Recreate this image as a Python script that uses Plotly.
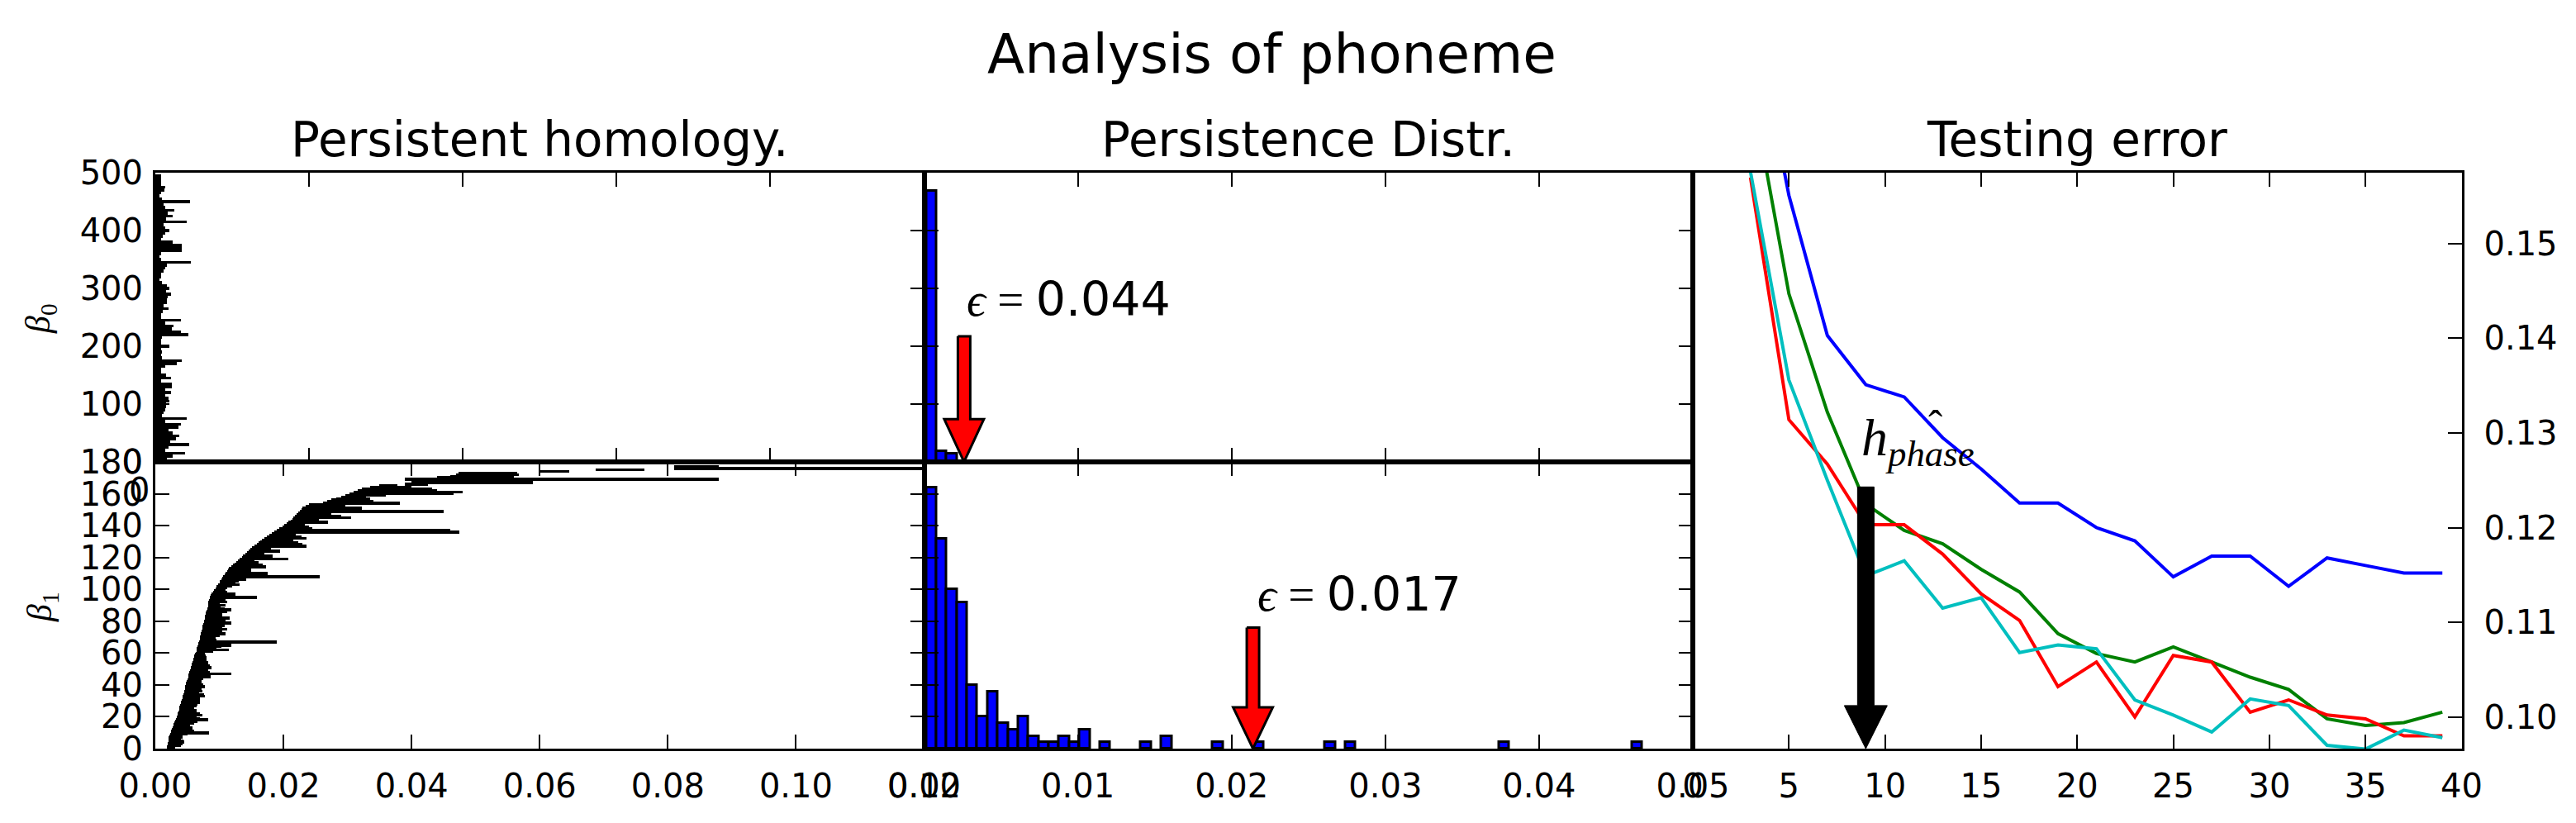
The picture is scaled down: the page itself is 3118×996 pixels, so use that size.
import plotly.graph_objects as go

W, H = 3118, 996

# ---------------- data ----------------
# beta0 barcode (top-left): bar index and death value (birth = 0)
beta0_index = list(range(0, 500, 5))
beta0_death = [
    0.00052, 0.00150, 0.00224, 0.00392, 0.00124, 0.00177, 0.00439, 0.00195, 0.00267, 0.00310,
    0.00231, 0.00177, 0.00303, 0.00331, 0.00131, 0.00403, 0.00088, 0.00105, 0.00124, 0.00142,
    0.00142, 0.00188, 0.00167, 0.00124, 0.00202, 0.00124, 0.00213, 0.00213, 0.00080, 0.00202,
    0.00142, 0.00070, 0.00070, 0.00131, 0.00274, 0.00339, 0.00088, 0.00080, 0.00088, 0.00070,
    0.00188, 0.00070, 0.00080, 0.00088, 0.00428, 0.00331, 0.00213, 0.00238, 0.00131, 0.00328,
    0.00080, 0.00080, 0.00095, 0.00167, 0.00105, 0.00152, 0.00152, 0.00159, 0.00202, 0.00142,
    0.00188, 0.00152, 0.00088, 0.00059, 0.00070, 0.00080, 0.00105, 0.00124, 0.00152, 0.00457,
    0.00070, 0.00059, 0.00070, 0.00346, 0.00346, 0.00346, 0.00224, 0.00070, 0.00095, 0.00131,
    0.00188, 0.00124, 0.00105, 0.00403, 0.00142, 0.00224, 0.00159, 0.00249, 0.00124, 0.00105,
    0.00446, 0.00088, 0.00052, 0.00080, 0.00120, 0.00124, 0.00080, 0.00080, 0.00070, 0.00070,
]

# beta1 barcode (bottom-left): birth / death per bar index 0..177
beta1_birth = [
    0.0018, 0.0018, 0.0019, 0.0019, 0.0020, 0.0020, 0.0021, 0.0021, 0.0022, 0.0023,
    0.0024, 0.0025, 0.0026, 0.0027, 0.0028, 0.0029, 0.0030, 0.0031, 0.0032, 0.0033,
    0.0034, 0.0035, 0.0035, 0.0036, 0.0037, 0.0038, 0.0038, 0.0039, 0.0040, 0.0040,
    0.0041, 0.0042, 0.0042, 0.0043, 0.0044, 0.0045, 0.0045, 0.0046, 0.0047, 0.0047,
    0.0048, 0.0048, 0.0049, 0.0050, 0.0051, 0.0051, 0.0052, 0.0053, 0.0053, 0.0054,
    0.0055, 0.0056, 0.0057, 0.0057, 0.0058, 0.0059, 0.0059, 0.0060, 0.0061, 0.0062,
    0.0063, 0.0064, 0.0065, 0.0065, 0.0066, 0.0067, 0.0067, 0.0068, 0.0069, 0.0069,
    0.0070, 0.0071, 0.0071, 0.0072, 0.0072, 0.0073, 0.0074, 0.0074, 0.0075, 0.0076,
    0.0076, 0.0077, 0.0077, 0.0078, 0.0079, 0.0079, 0.0080, 0.0081, 0.0081, 0.0082,
    0.0082, 0.0083, 0.0083, 0.0084, 0.0085, 0.0085, 0.0086, 0.0088, 0.0090, 0.0092,
    0.0094, 0.0095, 0.0096, 0.0098, 0.0100, 0.0101, 0.0103, 0.0105, 0.0106, 0.0108,
    0.0110, 0.0112, 0.0113, 0.0115, 0.0118, 0.0121, 0.0124, 0.0127, 0.0129, 0.0132,
    0.0135, 0.0137, 0.0140, 0.0143, 0.0146, 0.0148, 0.0151, 0.0155, 0.0158, 0.0161,
    0.0164, 0.0167, 0.0170, 0.0174, 0.0178, 0.0182, 0.0186, 0.0190, 0.0194, 0.0198,
    0.0201, 0.0205, 0.0208, 0.0211, 0.0214, 0.0216, 0.0218, 0.0220, 0.0223, 0.0226,
    0.0228, 0.0230, 0.0235, 0.0240, 0.0262, 0.0268, 0.0275, 0.0283, 0.0290, 0.0297,
    0.0303, 0.0310, 0.0316, 0.0322, 0.0335, 0.0350, 0.0390, 0.0400, 0.0410, 0.0390,
    0.0440, 0.0460, 0.0470, 0.0473, 0.0600, 0.0687, 0.0810, 0.0810,
]
beta1_death = [
    0.0030, 0.0031, 0.0040, 0.0042, 0.0045, 0.0044, 0.0040, 0.0043, 0.0042, 0.0050,
    0.0084, 0.0060, 0.0055, 0.0058, 0.0050, 0.0054, 0.0060, 0.0066, 0.0082, 0.0070,
    0.0065, 0.0073, 0.0070, 0.0062, 0.0064, 0.0060, 0.0058, 0.0065, 0.0066, 0.0069,
    0.0069, 0.0066, 0.0070, 0.0077, 0.0076, 0.0068, 0.0074, 0.0072, 0.0066, 0.0077,
    0.0075, 0.0070, 0.0072, 0.0068, 0.0075, 0.0086, 0.0086, 0.0118, 0.0085, 0.0082,
    0.0076, 0.0088, 0.0085, 0.0078, 0.0082, 0.0080, 0.0075, 0.0080, 0.0079, 0.0074,
    0.0077, 0.0090, 0.0115, 0.0095, 0.0103, 0.0119, 0.0105, 0.0190, 0.0095, 0.0092,
    0.0094, 0.0100, 0.0109, 0.0095, 0.0104, 0.0112, 0.0105, 0.0108, 0.0100, 0.0119,
    0.0105, 0.0110, 0.0116, 0.0104, 0.0099, 0.0105, 0.0112, 0.0118, 0.0108, 0.0102,
    0.0109, 0.0100, 0.0112, 0.0108, 0.0110, 0.0159, 0.0110, 0.0125, 0.0112, 0.0110,
    0.0108, 0.0112, 0.0120, 0.0131, 0.0125, 0.0130, 0.0142, 0.0135, 0.0256, 0.0150,
    0.0176, 0.0140, 0.0150, 0.0140, 0.0173, 0.0168, 0.0150, 0.0161, 0.0155, 0.0208,
    0.0175, 0.0183, 0.0170, 0.0165, 0.0195, 0.0180, 0.0170, 0.0236, 0.0230, 0.0223,
    0.0200, 0.0215, 0.0236, 0.0228, 0.0219, 0.0210, 0.0475, 0.0460, 0.0245, 0.0240,
    0.0234, 0.0232, 0.0269, 0.0250, 0.0255, 0.0306, 0.0290, 0.0275, 0.0268, 0.0450,
    0.0290, 0.0322, 0.0296, 0.0290, 0.0382, 0.0340, 0.0331, 0.0335, 0.0329, 0.0360,
    0.0466, 0.0480, 0.0440, 0.0432, 0.0400, 0.0378, 0.0425, 0.0589, 0.0560, 0.0879,
    0.0530, 0.0560, 0.0567, 0.0565, 0.0646, 0.0763, 0.1250, 0.0879,
]

# persistence histograms (middle column)
hist_bin_width = 0.000665
hist_bin_offset = 0.00014
hist0_bins = [0, 1, 2]
hist0_counts = [469, 19, 14]
hist1_bins = [0, 1, 2, 3, 4, 5, 6, 7, 8, 9, 10, 11, 12, 13, 14, 15,
              17, 21, 23, 28, 32, 39, 41, 56, 69]
hist1_counts = [164, 132, 100, 92, 40, 20, 36, 16, 12, 20, 8, 4, 4, 8, 4, 12,
                4, 4, 8, 4, 4, 4, 4, 4, 4]

# epsilon markers
eps0 = dict(x=0.0026, top=217, base=74, label="0.044", text_x=0.00265, text_y=281)
eps1 = dict(x=0.02139, top=76, base=26, label="0.017", text_x=0.0216, text_y=97)

# testing error (right panel)
err_x = [3, 5, 7, 9, 11, 13, 15, 17, 19, 21, 23, 25, 27, 29, 31, 33, 35, 37, 39]
err_blue = [0.1760, 0.1551, 0.1403, 0.1351, 0.1338, 0.1295, 0.1262, 0.1226, 0.1226, 0.1200,
            0.1186, 0.1148, 0.1170, 0.1170, 0.1138, 0.1168, 0.1160, 0.1152, 0.1152]
err_green = [0.1670, 0.1447, 0.1322, 0.1225, 0.1197, 0.1183, 0.1156, 0.1132, 0.1088, 0.1067,
             0.1058, 0.1074, 0.1058, 0.1042, 0.1029, 0.0998, 0.0991, 0.0994, 0.1005]
err_red = [0.1570, 0.1314, 0.1267, 0.1203, 0.1203, 0.1172, 0.1130, 0.1102, 0.1032, 0.1058,
           0.1000, 0.1065, 0.1058, 0.1005, 0.1018, 0.1002, 0.0998, 0.0980, 0.0980]
err_cyan = [0.1576, 0.1356, 0.1250, 0.1149, 0.1165, 0.1115, 0.1126, 0.1068, 0.1076, 0.1072,
            0.1018, 0.1002, 0.0984, 0.1019, 0.1012, 0.0970, 0.0966, 0.0986, 0.0978]
h_phase = dict(x=9, top=0.1243, base=0.1012)

# axis ranges
XL_TOP_RANGE = [0, 0.1]
XL_BOT_RANGE = [0, 0.12]
XM_RANGE = [0, 0.05]
XR_RANGE = [0, 40]
Y0_RANGE = [0, 500]
Y1_RANGE = [0, 180]
YR_RANGE = [0.09665, 0.1575]

# ---------------- layout geometry (pixels of the target picture) ----------------
PX_L, PX_M, PX_R, PX_E = 188, 1118.5, 2049, 2979.5
PY_T, PY_MID, PY_B = 209, 559, 906
OFF = 8  # the page body adds an 8px margin; compensate


def px2x(px):
    return (px - OFF) / W


def py2y(py):
    return 1 - (py - OFF) / H


def dx(a, b):
    return [px2x(a), px2x(b)]


def dy(top, bot):
    return [py2y(bot), py2y(top)]


FONT = "DejaVu Sans"
SERIF = "Liberation Serif"


def axis(domain, rng, tickvals, ticktext=None, show=False, anchor=None,
         mirror="ticks", side=None, standoff=10):
    d = dict(domain=domain, range=rng, tickmode="array", tickvals=tickvals,
             showticklabels=show, ticks="inside", ticklen=17, tickwidth=2,
             tickcolor="black", showline=True, linewidth=3, linecolor="black",
             mirror=mirror, showgrid=False, zeroline=False, anchor=anchor,
             fixedrange=True, ticklabelstandoff=standoff, automargin=False,
             tickfont=dict(size=40, color="black", family=FONT))
    if ticktext is not None:
        d["ticktext"] = ticktext
    if side is not None:
        d["side"] = side
    return d


fig = go.Figure()

# beta0 barcode
fig.add_trace(go.Bar(orientation="h", y=beta0_index, x=beta0_death, width=5,
                     marker=dict(color="black", line=dict(width=0)),
                     xaxis="x", yaxis="y", hoverinfo="skip"))
# beta1 barcode
fig.add_trace(go.Bar(orientation="h", y=list(range(len(beta1_birth))),
                     x=[d - b for b, d in zip(beta1_birth, beta1_death)],
                     base=beta1_birth, width=1.9,
                     marker=dict(color="black", line=dict(width=0)),
                     xaxis="x2", yaxis="y2", hoverinfo="skip"))


def centers(bins):
    return [hist_bin_offset + (k + 0.5) * hist_bin_width for k in bins]


fig.add_trace(go.Bar(x=centers(hist0_bins), y=hist0_counts, width=hist_bin_width,
                     marker=dict(color="#0000ff", line=dict(color="black", width=3)),
                     xaxis="x3", yaxis="y3", hoverinfo="skip"))
fig.add_trace(go.Bar(x=centers(hist1_bins), y=hist1_counts, width=hist_bin_width,
                     marker=dict(color="#0000ff", line=dict(color="black", width=3)),
                     xaxis="x4", yaxis="y4", hoverinfo="skip"))


def arrow_poly(x, top, base, tip, sw, hw):
    xs = [x - sw, x + sw, x + sw, x + hw, x, x - hw, x - sw, x - sw]
    ys = [top, top, base, base, tip, base, base, top]
    return xs, ys


mid_px_per_x = (PX_R - PX_M) / (XM_RANGE[1] - XM_RANGE[0])
for e, xa, ya in [(eps0, "x3", "y3"), (eps1, "x4", "y4")]:
    xs, ys = arrow_poly(e["x"], e["top"], e["base"], 0, 7.5 / mid_px_per_x, 24 / mid_px_per_x)
    fig.add_trace(go.Scatter(x=xs, y=ys, mode="lines", fill="toself", fillcolor="#ff0000",
                             line=dict(color="black", width=3), xaxis=xa, yaxis=ya,
                             hoverinfo="skip"))

for ys, col in [(err_blue, "#0000ff"), (err_green, "#008000"),
                (err_red, "#ff0000"), (err_cyan, "#00bfbf")]:
    fig.add_trace(go.Scatter(x=err_x, y=ys, mode="lines", line=dict(color=col, width=4),
                             xaxis="x5", yaxis="y5", hoverinfo="skip"))

r_px_per_x = (PX_E - PX_R) / (XR_RANGE[1] - XR_RANGE[0])
xs, ys = arrow_poly(h_phase["x"], h_phase["top"], h_phase["base"], YR_RANGE[0],
                    10 / r_px_per_x, 26 / r_px_per_x)
fig.add_trace(go.Scatter(x=xs, y=ys, mode="lines", fill="toself", fillcolor="black",
                         line=dict(color="black", width=1), xaxis="x5", yaxis="y5",
                         hoverinfo="skip"))

tick002 = [0.0, 0.02, 0.04, 0.06, 0.08, 0.10, 0.12]
tick001 = [0.0, 0.01, 0.02, 0.03, 0.04, 0.05]

fig.update_layout(
    width=W, height=H, autosize=False,
    margin=dict(l=0, r=0, t=0, b=0, pad=0, autoexpand=False),
    paper_bgcolor="white", plot_bgcolor="white",
    showlegend=False, barmode="overlay", bargap=0,
    font=dict(family=FONT, color="black"),
    xaxis=axis(dx(PX_L, PX_M), XL_TOP_RANGE, [0.02, 0.04, 0.06, 0.08], anchor="y"),
    yaxis=axis(dy(PY_T, PY_MID), Y0_RANGE, [0, 100, 200, 300, 400, 500],
               ["0", "100", "200", "300", "400", "500"], show=True, anchor="x", standoff=4),
    xaxis2=axis(dx(PX_L, PX_M), XL_BOT_RANGE, tick002,
                ["%.2f" % v for v in tick002], show=True, anchor="y2", standoff=8),
    yaxis2=axis(dy(PY_MID, PY_B), Y1_RANGE, list(range(0, 181, 20)),
                [str(v) for v in range(0, 181, 20)], show=True, anchor="x2", standoff=4),
    xaxis3=axis(dx(PX_M, PX_R), XM_RANGE, [0.01, 0.02, 0.03, 0.04], anchor="y3"),
    yaxis3=axis(dy(PY_T, PY_MID), Y0_RANGE, [100, 200, 300, 400], anchor="x3"),
    xaxis4=axis(dx(PX_M, PX_R), XM_RANGE, tick001,
                ["%.2f" % v for v in tick001], show=True, anchor="y4", standoff=8),
    yaxis4=axis(dy(PY_MID, PY_B), Y1_RANGE, list(range(20, 180, 20)), anchor="x4"),
    xaxis5=axis(dx(PX_R, PX_E), XR_RANGE, list(range(0, 41, 5)),
                [str(v) for v in range(0, 41, 5)], show=True, anchor="y5", standoff=8),
    yaxis5=axis(dy(PY_T, PY_B), YR_RANGE, [0.10, 0.11, 0.12, 0.13, 0.14, 0.15],
                ["0.10", "0.11", "0.12", "0.13", "0.14", "0.15"], show=True,
                anchor="x5", mirror=True, side="right", standoff=16),
)


def ann(text, px, py, size, xanchor="center", yanchor="middle", family=FONT, angle=0):
    return dict(text=text, x=px2x(px), y=py2y(py), xref="paper", yref="paper",
                showarrow=False, xanchor=xanchor, yanchor=yanchor,
                textangle=angle, font=dict(size=size, family=family, color="black"))


annotations = [
    ann("Analysis of phoneme", 1539, 65, 66),
    ann("Persistent homology.", (PX_L + PX_M) / 2, 169, 58),
    ann("Persistence Distr.", (PX_M + PX_R) / 2, 169, 58),
    ann("Testing error", (PX_R + PX_E) / 2, 169, 58),
    ann("<i>β</i><sub>0</sub>", 49, 386, 42, family=SERIF, angle=-90),
    ann("<i>β</i><sub>1</sub>", 51, 735, 42, family=SERIF, angle=-90),
    ann("0", 183, 593, 40, xanchor="right"),
]
for e, xa, ya in [(eps0, "x3", "y3"), (eps1, "x4", "y4")]:
    annotations.append(dict(
        text='<span style="font-family:%s"><i>ϵ</i> = </span>%s' % (SERIF, e["label"]),
        x=e["text_x"], y=e["text_y"], xref=xa, yref=ya, showarrow=False,
        xanchor="left", yanchor="middle", font=dict(size=57, family=FONT, color="black")))
annotations.append(dict(text="<i>h</i><sub><i>phase</i></sub>", x=h_phase["x"] - 0.3,
                        y=0.1255, xref="x5", yref="y5", showarrow=False,
                        xanchor="left", yanchor="bottom",
                        font=dict(size=64, family=SERIF, color="black")))
annotations.append(dict(text="ˆ", x=h_phase["x"] + 3.6, y=0.1307, xref="x5", yref="y5",
                        showarrow=False, xanchor="center", yanchor="middle",
                        font=dict(size=52, family=SERIF, color="black")))
fig.update_layout(annotations=annotations)

fig.write_html("out.html")
